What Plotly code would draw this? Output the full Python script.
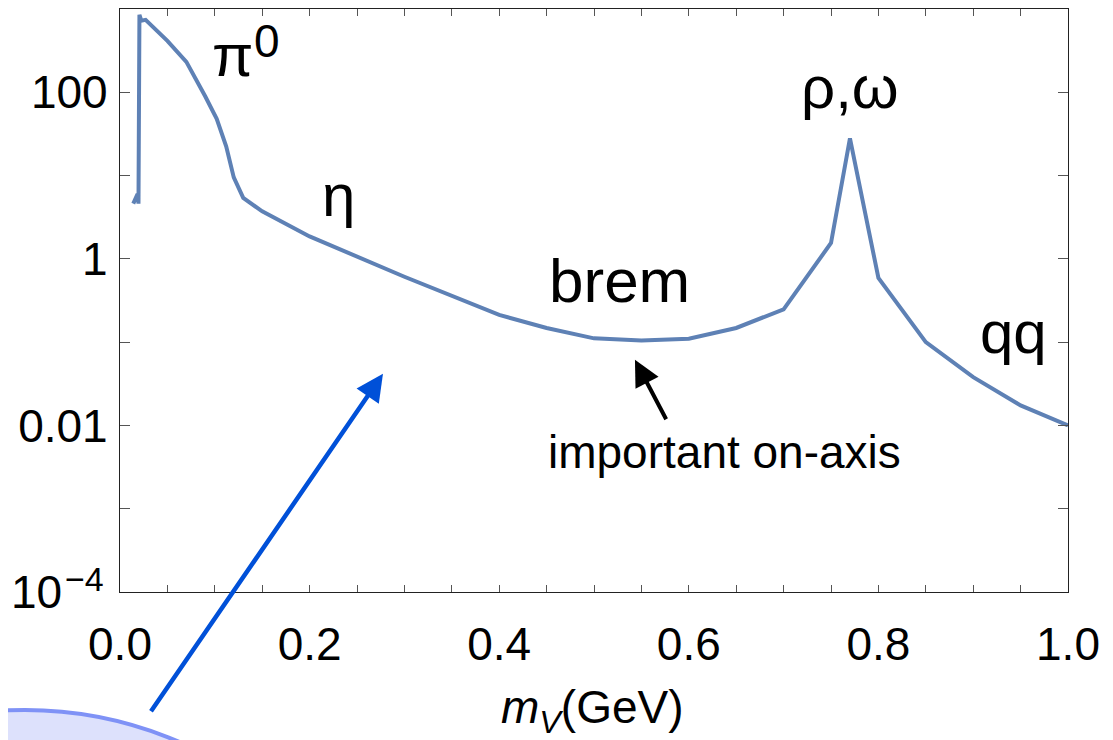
import plotly.graph_objects as go

# ---- data ----
m_v = [0.014, 0.0185, 0.0195, 0.0205, 0.0225, 0.027, 0.05, 0.07, 0.09, 0.102, 0.112,
       0.12, 0.13, 0.15, 0.2, 0.3, 0.4, 0.45, 0.5, 0.55, 0.6, 0.65, 0.7, 0.75, 0.77,
       0.8, 0.85, 0.9, 0.95, 1.0]
rate = [4.6, 6.0, 4.6, 850, 725, 740, 414, 232, 89, 48, 22.5,
        9.5, 5.4, 3.72, 1.86, 0.61, 0.212, 0.148, 0.111, 0.105, 0.110, 0.148, 0.248, 1.55, 28,
        0.59, 0.10, 0.038, 0.0174, 0.010]

x_tick_vals = [0.0, 0.2, 0.4, 0.6, 0.8, 1.0]
x_tick_text = ["0.0", "0.2", "0.4", "0.6", "0.8", "1.0"]
x_minor_vals = [0.05, 0.1, 0.15, 0.25, 0.3, 0.35, 0.45, 0.5, 0.55, 0.65, 0.7, 0.75,
                0.85, 0.9, 0.95]
y_tick_vals = [1e-2, 1, 100]
y_tick_text = ["0.01", "1", "100"]
y_minor_vals = [1e-4, 1e-3, 1e-1, 10, 1000]
y_bottom_base, y_bottom_exp = "10", "\u22124"   # label of the 1e-4 tick

# page is offset by the browser's 8px body margin
OFF = 8
W, H = 1113 - OFF, 740 - OFF
PL, PR, PT, PB = 120, 1068, 9, 592          # plot area in screen pixels
L, R, T, B = PL - OFF, W - (PR - OFF), PT - OFF, H - (PB - OFF)


def px(xs):
    return (xs - PL) / (PR - PL)


def py(ys):
    return (PB - ys) / (PB - PT)


FONT = "Liberation Sans, Arial, Helvetica, sans-serif"
CURVE = "#5e81b5"

fig = go.Figure()
fig.add_trace(go.Scatter(x=m_v, y=rate, mode="lines",
                         line=dict(color=CURVE, width=4), showlegend=False,
                         hoverinfo="x+y"))

fig.update_layout(
    width=W, height=H,
    margin=dict(l=L, r=R, t=T, b=B, autoexpand=False),
    paper_bgcolor="white", plot_bgcolor="white",
    font=dict(family=FONT, color="black"),
    xaxis=dict(range=[0, 1], tickvals=x_tick_vals, ticktext=x_tick_text,
               ticks="inside", ticklen=7, tickwidth=1.2, tickcolor="#555",
               minor=dict(tickvals=x_minor_vals, ticks="inside", ticklen=7,
                          tickwidth=1.2, tickcolor="#555", showgrid=False),
               showline=True, linecolor="#222", linewidth=1.2, mirror="ticks",
               showgrid=False, zeroline=False, tickfont=dict(size=46, family=FONT),
               ticklabelstandoff=12, automargin=False),
    yaxis=dict(type="log", range=[-4, 3], tickvals=y_tick_vals, ticktext=y_tick_text,
               ticks="inside", ticklen=10, tickwidth=1.2, tickcolor="#555",
               minor=dict(tickvals=y_minor_vals, ticks="inside", ticklen=10,
                          tickwidth=1.2, tickcolor="#555", showgrid=False),
               showline=True, linecolor="#222", linewidth=1.2, mirror="ticks",
               showgrid=False, zeroline=False, tickfont=dict(size=46, family=FONT),
               ticklabelstandoff=2, automargin=False),
)

# 10^-4 tick label, drawn as two pieces so the exponent keeps its size
fig.add_annotation(text=y_bottom_base, x=px(64), y=-4, xref="paper", yref="y",
                   xanchor="right", yanchor="middle", showarrow=False,
                   font=dict(size=46, family=FONT, color="black"))
fig.add_annotation(text=y_bottom_exp, x=px(63), y=py(579), xref="paper", yref="paper",
                   xanchor="left", yanchor="middle", showarrow=False,
                   font=dict(size=34, family=FONT, color="black"))

labels = [
    ("\u03c0", 232, 55, 60),
    ("0", 267, 41, 46),
    ("\u03b7", 338, 195, 60),
    ("brem", 619, 280, 62),
    ("\u03c1,\u03c9", 850, 87, 60),
    ("qq", 1013, 332, 60),
    ("important on-axis", 724, 452, 46),
    ("<i>m</i><sub><i>V</i></sub>(GeV)", 592, 711, 46),
]
for txt, xx, yy, fs in labels:
    fig.add_annotation(text=txt, x=px(xx), y=py(yy), xref="paper", yref="paper",
                       xanchor="center", yanchor="middle", showarrow=False,
                       font=dict(size=fs, family=FONT, color="black"))

# black arrow pointing to the minimum
fig.add_annotation(x=0.5432, y=-1.212, xref="x", yref="y", ax=32, ay=61,
                   axref="pixel", ayref="pixel", text="", showarrow=True,
                   arrowhead=2, arrowsize=1.3, arrowwidth=4, arrowcolor="black")

# blue arrow from the bubble
fig.add_annotation(x=0.2774, y=-1.38, xref="x", yref="y", ax=-233, ay=339,
                   axref="pixel", ayref="pixel", text="", showarrow=True,
                   arrowhead=2, arrowsize=1.2, arrowwidth=4.5, arrowcolor="#0050d8")

# light blue bubble at the bottom-left
fig.add_shape(type="circle", xref="paper", yref="paper",
              x0=px(25 - 389), x1=px(25 + 389), y0=py(1099 + 389), y1=py(710),
              line=dict(color="#7f92f6", width=4), fillcolor="#dde1fc", layer="above")

fig.write_html("out.html")
